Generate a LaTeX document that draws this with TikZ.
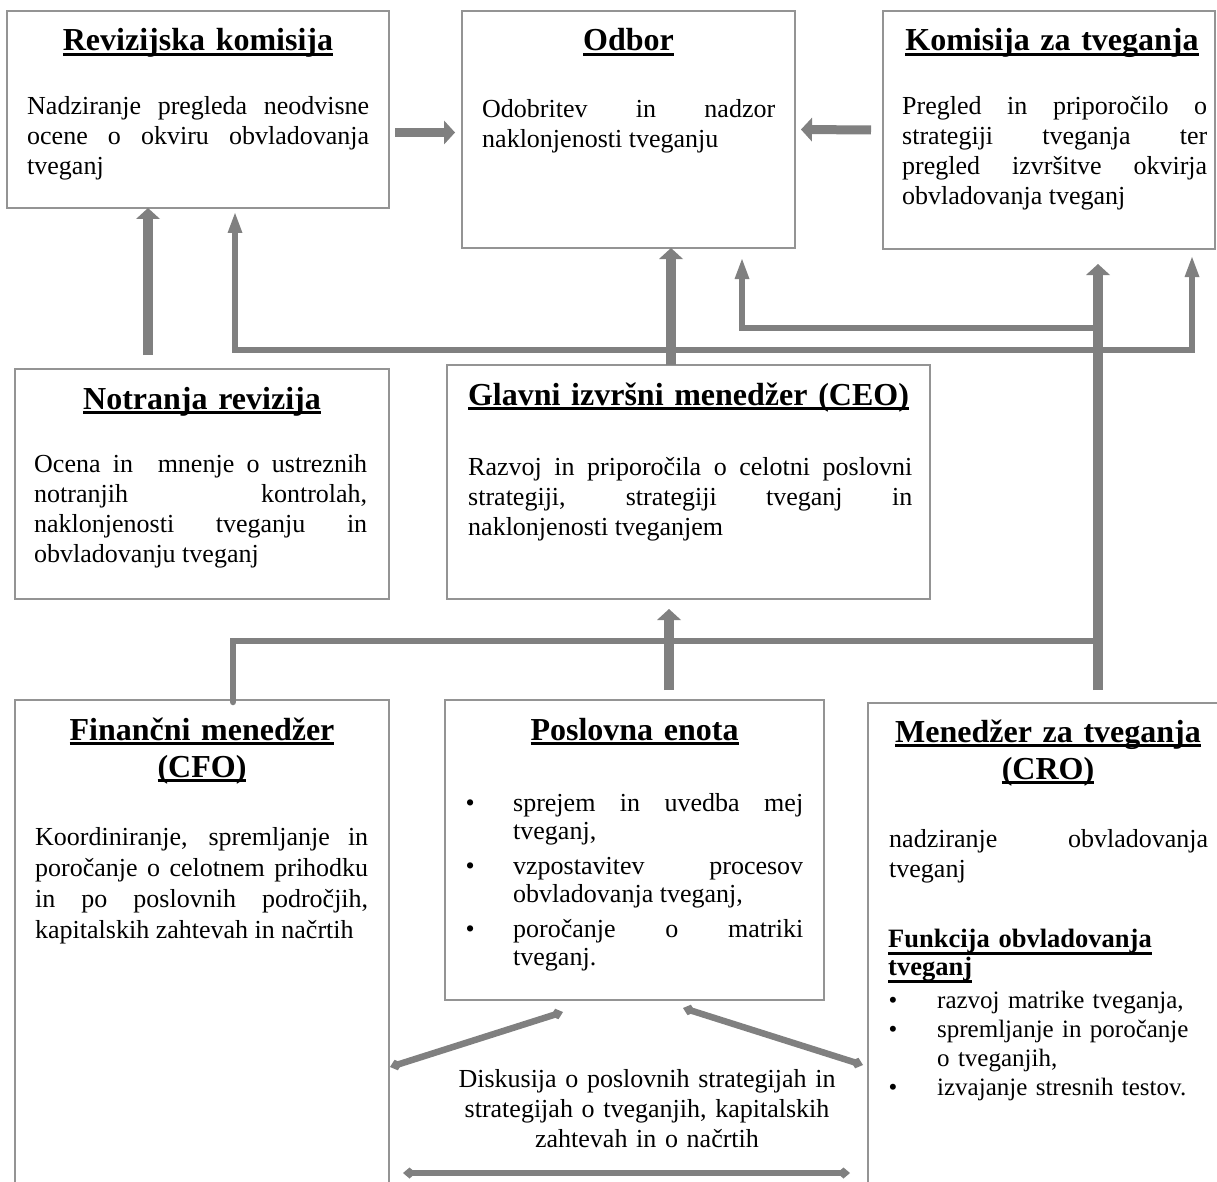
\documentclass[tikz,border=0pt]{standalone}
\usepackage{fontspec}
\setmainfont{Liberation Serif}
\usetikzlibrary{arrows.meta, calc}

\hyphenpenalty=10000
\exhyphenpenalty=10000
\tolerance=10000
\newsavebox{\ulbox}
\newcommand{\hul}[2][5pt]{\leavevmode\sbox{\ulbox}{#2}\rlap{\rule[-#1]{\wd\ulbox}{2.8pt}}\usebox{\ulbox}}
\newcommand{\txtfont}{\fontsize{26}{30}\selectfont}
\newcommand{\hdfont}{\fontsize{32}{37}\selectfont\bfseries}
\newcommand{\bpoint}[2]{\hangindent=#1\hangafter=1\noindent\makebox[#1][l]{\hspace{#2}\textbullet}}
\tikzset{
    box/.style={draw=black!42, line width=1.3pt, anchor=north west, inner sep=0pt, outer sep=0pt},
    boxhead/.style={anchor=base, align=center, text width=#1, inner sep=0pt, font=\hdfont},
    boxtext/.style={anchor=base west, align=justify, text width=#1, inner sep=0pt, font=\txtfont},
    fattip/.tip={Triangle[length=11pt, width=24pt, line width=0pt]},
    thintip/.tip={Triangle[length=20pt, width=15pt, line width=0pt]},
    knot/.tip={Diamond[length=13pt, width=11pt, line width=0pt]},
    bigflow/.style={draw=black!50, line width=10pt, arrows={-fattip}},
    flow/.style={draw=black!50, line width=6.5pt, arrows={-thintip}},
    talk/.style={draw=black!50, line width=6.5pt, arrows={knot-knot}}
}

\begin{document}
\begin{tikzpicture}[x=1pt, y=-1pt]
    \useasboundingbox (0,0) rectangle (1217,1182);
    \clip (0,0) rectangle (1217,1182);

    % Revizijska komisija
    \begin{scope}[shift={(7,11)}]
        \node[box, minimum width=382pt, minimum height=197pt] (rev) at (0,0) {};
        \node[boxhead=360pt] (revhead) at (191,40) {\hul{Revizijska komisija}};
        \node[boxtext=342pt] (revtext) at (20,104) {Nadziranje pregleda neodvisne\linebreak ocene o okviru obvladovanja\linebreak tveganj};
    \end{scope}

    % Odbor
    \begin{scope}[shift={(462,11)}]
        \node[box, minimum width=333pt, minimum height=237pt] (odbor) at (0,0) {};
        \node[boxhead=313pt] (odborhead) at (166.5,40) {\hul{Odbor}};
        \node[boxtext=293pt] (odbortext) at (20,107) {Odobritev in nadzor\linebreak naklonjenosti tveganju};
    \end{scope}

    % Komisija za tveganja
    \begin{scope}[shift={(883,11)}]
        \node[box, minimum width=332pt, minimum height=238pt] (kom) at (0,0) {};
        \node[boxhead=320pt] (komhead) at (169,40) {\hul{Komisija za tveganja}};
        \node[boxtext=305pt] (komtext) at (19,104) {Pregled in priporočilo o\linebreak strategiji tveganja ter\linebreak pregled izvršitve okvirja\linebreak obvladovanja tveganj};
    \end{scope}

    % Notranja revizija
    \begin{scope}[shift={(15,369)}]
        \node[box, minimum width=374pt, minimum height=230pt] (nrev) at (0,0) {};
        \node[boxhead=354pt] (nrevhead) at (187,40) {\hul{Notranja revizija}};
        \node[boxtext=333pt] (nrevtext) at (19,103) {Ocena in \ mnenje o ustreznih\linebreak notranjih kontrolah,\linebreak naklonjenosti tveganju in\linebreak obvladovanju tveganj};
    \end{scope}

    % Glavni izvrsni menedzer
    \begin{scope}[shift={(447,365)}]
        \node[box, minimum width=483pt, minimum height=234pt] (ceo) at (0,0) {};
        \node[boxhead=463pt] (ceohead) at (241.5,40) {\hul{Glavni izvršni menedžer (CEO)}};
        \node[boxtext=444pt] (ceotext) at (21,110) {Razvoj in priporočila o celotni poslovni\linebreak strategiji, strategiji tveganj in\linebreak naklonjenosti tveganjem};
    \end{scope}

    % Financni menedzer
    \begin{scope}[shift={(15,700)}]
        \node[box, minimum width=374pt, minimum height=520pt] (cfo) at (0,0) {};
        \node[boxhead=354pt] (cfohead) at (187,40) {\hul{Finančni menedžer}\\\hul{(CFO)}};
        \node[boxtext=333pt, font={\fontsize{26}{31}\selectfont}] (cfotext) at (20,145) {Koordiniranje, spremljanje in\linebreak poročanje o celotnem prihodku\linebreak in po poslovnih področjih,\linebreak kapitalskih zahtevah in načrtih};
    \end{scope}

    % Poslovna enota
    \begin{scope}[shift={(445,700)}]
        \node[box, minimum width=379pt, minimum height=300pt] (unit) at (0,0) {};
        \node[boxhead=359pt] (unithead) at (189.5,40) {\hul{Poslovna enota}};
        \node[boxtext=341pt, font={\fontsize{26}{28}\selectfont}] (unittext) at (17,111) {\bpoint{51pt}{3.5pt}sprejem in uvedba mej\linebreak tveganj,\par\vspace{7pt}\bpoint{51pt}{3.5pt}vzpostavitev procesov\linebreak obvladovanja tveganj,\par\vspace{7pt}\bpoint{51pt}{3.5pt}poročanje o matriki\linebreak tveganj.\par};
    \end{scope}

    % Menedzer za tveganja
    \begin{scope}[shift={(868,703)}]
        \node[box, minimum width=362pt, minimum height=497pt] (cro) at (0,0) {};
        \node[boxhead=340pt] (crohead) at (180,39) {\hul{Menedžer za tveganja}\\\hul{(CRO)}};
        \node[boxtext=319pt] (crotext) at (21,144) {nadziranje obvladovanja\linebreak tveganj};
        \node[boxtext=320pt, align=left, font={\fontsize{26.5}{28}\selectfont\bfseries}] (crosub) at (20,244) {\hul[8pt]{Funkcija obvladovanja}\\\hul[8pt]{tveganj}};
        \node[boxtext=316pt, align=left, font={\fontsize{25}{29}\selectfont}] (crolist) at (16,305) {\bpoint{53pt}{4.5pt}razvoj matrike tveganja,\par\bpoint{53pt}{4.5pt}spremljanje in poročanje\newline o tveganjih,\par\bpoint{53pt}{4.5pt}izvajanje stresnih testov.\par};
    \end{scope}

    \node[font=\txtfont, align=center, text width=420pt, anchor=base, inner sep=0pt] (talktext) at (647,1087) {Diskusija o poslovnih strategijah in\\strategijah o tveganjih, kapitalskih\\zahtevah in o načrtih};

    % connectors
    \coordinate (nrx) at (148,355);
    \coordinate (ceox) at (671,350);
    \coordinate (revin) at (235,350);
    \coordinate (komin) at (1192,350);
    \coordinate (crox) at (1098,328);
    \coordinate (odbin) at (742,328);
    \coordinate (cfox) at (233,641);

    \draw[bigflow, line width=9pt] ($(rev.east)+(6,23)$) -- ($(odbor.west)+(-7,3)$);
    \draw[bigflow, line width=9pt] ($(kom.west)+(-12,0)$) -- ($(odbor.east)+(6,0)$);
    \draw[bigflow] (nrx) -- (nrx |- rev.south);
    \draw[bigflow] (ceox |- ceo.north) -- (ceox |- odbor.south);
    \draw[flow, arrows={thintip-thintip}] ($(revin |- rev.south)+(0,5)$) -- (revin) -- (komin) -- ($(komin |- kom.south)+(0,8)$);
    \draw[bigflow] ($(crox |- cro.north)+(0,-13)$) -- ($(crox |- kom.south)+(0,15)$);
    \draw[flow] (crox) -- (odbin) -- ($(odbin |- odbor.south)+(0,11)$);
    \draw[flow, arrows={-}, line cap=round] ($(cfox |- cfo.north)+(0,2)$) -- (cfox) -- (cfox -| crox);
    \draw[bigflow] ($(ceox |- unit.north)+(-2,-10)$) -- ($(ceox |- ceo.south)+(-2,10)$);

    % discussion between the bottom boxes
    \coordinate (tl1) at (390,1067);
    \coordinate (tl2) at (563,1012);
    \coordinate (tr1) at (683,1008);
    \coordinate (tr2) at (863,1065);
    \coordinate (tb1) at (403,1173);
    \coordinate (tb2) at (850,1173);
    \foreach \a/\b in {tl1/tl2, tr1/tr2, tb1/tb2}
        \draw[talk] (\a) -- (\b);
\end{tikzpicture}
\end{document}
